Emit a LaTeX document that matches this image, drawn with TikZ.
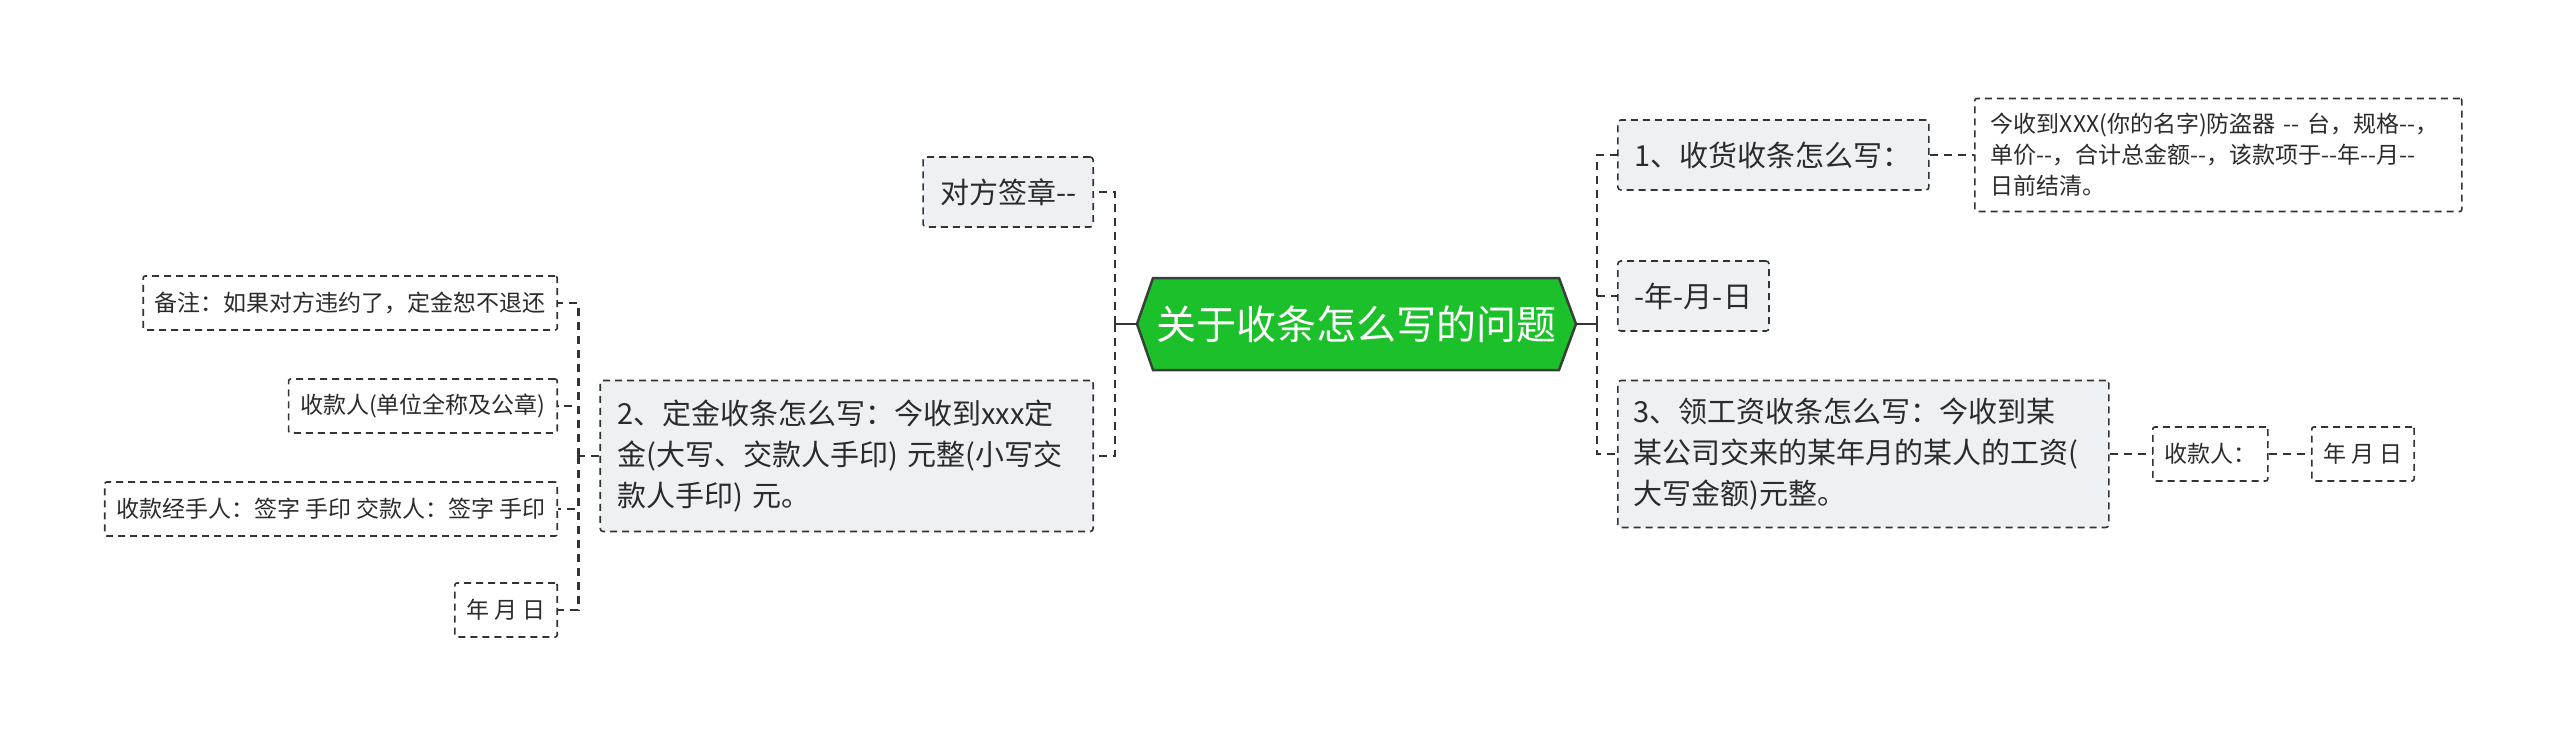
\documentclass[tikz,border=0pt]{standalone}
\usepackage{fontspec}
\setmainfont{Noto Sans CJK SC}[Ligatures=TeXOff]
\definecolor{linec}{HTML}{333333}
\definecolor{textc}{HTML}{2B2B2B}
\definecolor{boxfill}{HTML}{EEF1F4}
\definecolor{rootgreen}{HTML}{1CC02A}
\definecolor{rootborder}{HTML}{36413A}
\tikzset{
  lvA/.style={draw=linec, fill=boxfill, line width=1.6pt, dash pattern=on 7pt off 5pt,
    rounded corners=3pt, font=\fontsize{29}{41}\selectfont, text=textc,
    inner xsep=17pt, inner ysep=8pt, minimum height=70pt, align=left},
  lvB/.style={draw=linec, fill=white, line width=1.6pt, dash pattern=on 7pt off 5pt,
    rounded corners=2pt, font=\fontsize{23}{31}\selectfont, text=textc,
    inner xsep=11.5pt, inner ysep=6pt, minimum height=54pt, align=left},
  conn/.style={draw=linec, line width=2.7pt, dash pattern=on 8pt off 6pt},
  stub/.style={draw=linec, line width=2.7pt},
  rootshape/.style={draw=rootborder, fill=rootgreen, line width=2.5pt},
  roottext/.style={font=\fontsize{40}{40}\selectfont, text=white, inner sep=0pt},
}
\begin{document}
\begin{tikzpicture}[x=1pt,y=-1pt]
\useasboundingbox (0,0) rectangle (2560,736);

% root
\path[rootshape] (1137,324) -- (1153,278) -- (1559,278) -- (1576,324) -- (1559,370) -- (1153,370) -- cycle;
\coordinate (rootL) at (1137,324);
\coordinate (rootR) at (1576,324);
\node[roottext] (root) at (1356,324) {关于收条怎么写的问题};

% right side
\node[lvA, anchor=west] (n1) at (1617,155) {1、收货收条怎么写：};
\node[lvB, anchor=west, text width=455pt, inner xsep=16pt, minimum height=113pt] (n1c) at (1974,155)
  {今收到XXX(你的名字)防盗器~--~台，规格--，\\单价--，合计总金额--，该款项于--年--月--\\日前结清。};
\node[lvA, anchor=west] (d1) at (1617,296) {-年-月-日};
\node[lvA, anchor=west, text width=459pt, inner xsep=16pt, minimum height=147pt] (n3) at (1617,454)
  {3、领工资收条怎么写：今收到某\\某公司交来的某年月的某人的工资(\\大写金额)元整。};
\node[lvB, anchor=west] (k1) at (2152,454) {收款人：};
\node[lvB, anchor=west] (k2) at (2311,454) {年~月~日};

% left side
\node[lvA, anchor=east] (s1) at (1094,192) {对方签章--};
\node[lvA, anchor=east, text width=459pt, inner xsep=17pt, minimum height=151pt] (n2) at (1094,456)
  {2、定金收条怎么写：今收到xxx定\\金(大写、交款人手印)~元整(小写交\\款人手印)~元。};
\node[lvB, anchor=east] (c1) at (558,303) {备注：如果对方违约了，定金恕不退还};
\node[lvB, anchor=east] (c2) at (558,406) {收款人(单位全称及公章)};
\node[lvB, anchor=east] (c3) at (558,509) {收款经手人：签字~手印~交款人：签字~手印};
\node[lvB, anchor=east] (c4) at (558,610) {年~月~日};

% connectors right
\draw[stub] (rootR) -- ++(21,0) coordinate (rt);
\draw[conn] (rt) |- (n1.west);
\draw[conn] (rt) |- (d1.west);
\draw[conn] (rt) |- (n3.west);
\draw[conn] (n1.east) -- (n1c.west);
\draw[conn] (n3.east) -- (k1.west);
\draw[conn] (k1.east) -- (k2.west);

% connectors left
\draw[stub] (rootL) -- ++(-22,0) coordinate (lt);
\draw[conn] (lt) |- (s1.east);
\draw[conn] (lt) |- (n2.east);
\draw[conn] (n2.west) -- ++(-21,0) coordinate (lt2);
\draw[conn] (lt2) |- (c1.east);
\draw[conn] (lt2) |- (c2.east);
\draw[conn] (lt2) |- (c3.east);
\draw[conn] (lt2) |- (c4.east);
\end{tikzpicture}
\end{document}
